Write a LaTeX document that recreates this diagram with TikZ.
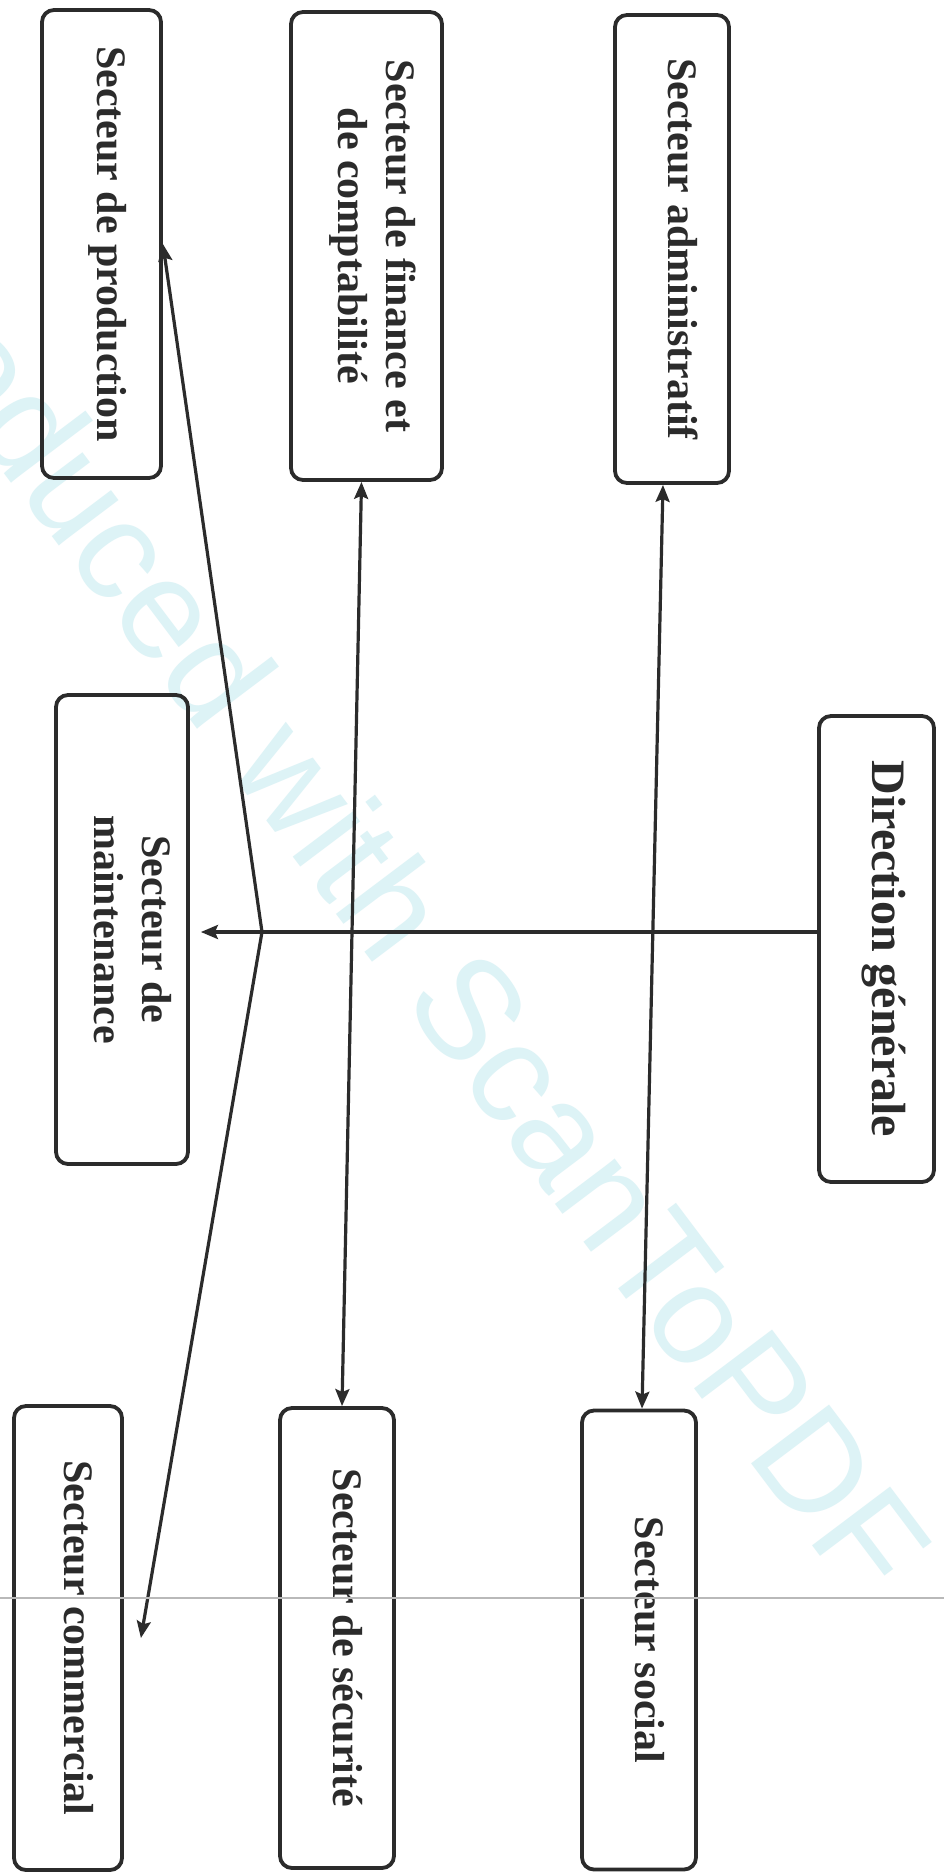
\documentclass[tikz,border=0pt]{standalone}
\usepackage{fontspec}
\setmainfont{Liberation Serif}
\setsansfont{Liberation Sans}
\usetikzlibrary{arrows.meta,calc}
\definecolor{ink}{HTML}{2B2B2B}
\definecolor{wmark}{RGB}{221,243,246}
\definecolor{scanline}{RGB}{185,185,185}
\tikzset{
  sector/.style={draw=ink, line width=1.9pt, rounded corners=6pt, inner sep=0pt, align=center, text=ink},
  link/.style={draw=ink, line width=1.6pt},
  arr/.style={link, -{Stealth[length=8.5pt,width=7pt,inset=1.5pt]}},
  dbl/.style={link, {Stealth[length=8.5pt,width=7pt,inset=1.5pt]}-{Stealth[length=8.5pt,width=7pt,inset=1.5pt]}},
}
% vertical label, read from top to bottom, nudged towards the glyph tops
\newcommand{\vtext}[2][21]{\rotatebox{-90}{\fontsize{#1}{24}\selectfont\bfseries\raisebox{3pt}[\height][\depth]{\begin{tabular}{@{}c@{}}#2\end{tabular}}}}
\begin{document}
\begin{tikzpicture}[x=0.5pt,y=-0.5pt]
\useasboundingbox (0,0) rectangle (944,1874);
\fill[white] (0,0) rectangle (944,1874);

% scanner watermark
\node[rotate=-53, text=wmark, font=\sffamily\fontsize{71}{80}\selectfont] (wm) at (388,898) {Produced with ScanToPDF};

% sectors
\node[sector, minimum width=59.5pt, minimum height=234pt] (prod) at (101.5,244) {\vtext{Secteur de production}};
\node[sector, minimum width=75.5pt, minimum height=234pt] (fin) at (366.5,246) {\vtext{Secteur de finance et\\de comptabilité}};
\node[sector, minimum width=57pt, minimum height=234pt] (adm) at (672,249) {\vtext{Secteur administratif}};
\node[sector, minimum width=66pt, minimum height=234.5pt] (maint) at (122,929.5) {\vtext{Secteur de\\maintenance}};
\node[sector, minimum width=57.5pt, minimum height=233pt] (dir) at (876.5,949) {\vtext[24]{Direction générale}};
\node[sector, minimum width=54pt, minimum height=232pt] (comm) at (68,1638) {\vtext{Secteur commercial}};
\node[sector, minimum width=57pt, minimum height=230pt] (secu) at (337,1638) {\vtext{Secteur de sécurité}};
\node[sector, minimum width=57pt, minimum height=229.5pt] (soc) at (639,1640) {\vtext{Secteur social}};

% connectors
\coordinate (br) at (262,932);
\draw[link] (dir.west |- br) -- (br);
\draw[arr, shorten >=5.5pt] (br) -- (maint.east |- br);
\draw[arr] (br) -- (prod.east);
\draw[arr] (br) -- ([xshift=8.5pt]comm.east);
\draw[dbl] ([xshift=-2.5pt]fin.south) -- ([xshift=2.5pt]secu.north);
\draw[dbl] ([xshift=-4.5pt]adm.south) -- ([xshift=1.5pt]soc.north);

% scanner streak
\draw[scanline, line width=1.3pt] (0,1598) -- (944,1598);
\end{tikzpicture}
\end{document}
